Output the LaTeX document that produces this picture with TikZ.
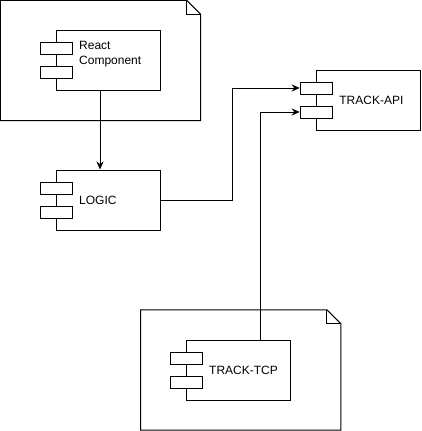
\documentclass[tikz,border=0pt]{standalone}
\usepackage{fontspec}
\setmainfont{Liberation Sans}
\usetikzlibrary{positioning, arrows.meta}

% package frame with folded corner
\newcommand{\pkgframe}[1]{%
  \draw[pkgline] (#1.north west) -- ([xshift=-14pt]#1.north east)
    -- ([yshift=-14pt]#1.north east) -- (#1.south east) -- (#1.south west) -- cycle;
  \draw[pkgline] ([xshift=-14pt]#1.north east) -- ++(0,14) -- ([yshift=-14pt]#1.north east);
}
% the two small port rectangles of a component
\newcommand{\compports}[1]{%
  \node[port, yshift=12pt] (#1p1) at (#1.west) {};
  \node[port, yshift=-12pt] (#1p2) at (#1.west) {};
}

\begin{document}
\begin{tikzpicture}[x=1pt, y=-1pt,
    pkg/.style={minimum width=200pt, minimum height=120pt, inner sep=0pt},
    pkgline/.style={line width=1pt, line join=miter},
    comp/.style={draw, line width=1pt, fill=white, minimum width=104pt,
                 minimum height=60pt, inner sep=0pt},
    port/.style={draw, line width=1pt, fill=white, minimum width=32pt,
                 minimum height=12pt, inner sep=0pt},
    lbl/.style={inner sep=0pt, align=left, font=\fontsize{12}{15}\selectfont},
    conn/.style={line width=1pt, -{Stealth[length=8pt, width=7pt]}}]
  \useasboundingbox (0,0) rectangle (421,431);

  % packages
  \node[pkg] (uiPkg) at (100.5,60.5) {};
  \pkgframe{uiPkg}
  \node[pkg] (tcpPkg) at (240.7,370) {};
  \pkgframe{tcpPkg}

  % components
  \node[comp] (react) at (108.5,60) {};
  \compports{react}
  \node[lbl, anchor=west, right=23pt of react.west, yshift=5.5pt] (reactLbl) {React\\Component};

  \node[comp] (logic) at (108.5,200) {};
  \compports{logic}
  \node[lbl, anchor=west, right=23pt of logic.west] (logicLbl) {LOGIC};

  \node[comp] (api) at (368.7,100) {};
  \compports{api}
  \node[lbl, anchor=west, right=23pt of api.west] (apiLbl) {TRACK-API};

  \node[comp] (tcp) at (238.5,370) {};
  \compports{tcp}
  \node[lbl, anchor=west, right=23pt of tcp.west] (tcpLbl) {TRACK-TCP};

  % connectors
  \draw[conn] ([xshift=-8.5pt]react.south) -- ([xshift=-8.5pt]logic.north);
  \draw[conn] (logic.east) -- ++(71,0) |- (apip1.west);
  \draw[conn] ([xshift=22pt]tcp.north) |- (apip2.west);
\end{tikzpicture}
\end{document}
